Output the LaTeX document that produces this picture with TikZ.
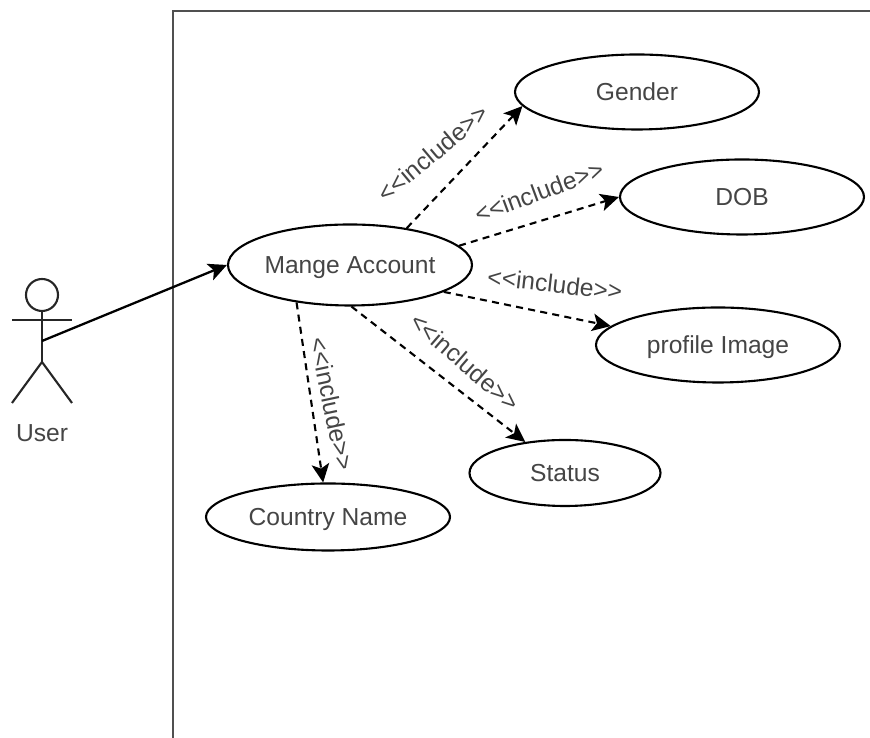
\documentclass[tikz,border=0pt]{standalone}
\usepackage{fontspec}
\setmainfont{Liberation Sans}
\usetikzlibrary{arrows.meta,shapes.geometric}
\definecolor{inkgray}{HTML}{454545}
\definecolor{framegray}{HTML}{505050}
\newcommand{\incl}{<{}<include>{}>}
\tikzset{
	usecase/.style={draw, ellipse, line width=1.2pt, inner sep=0pt, minimum width=4.88cm, minimum height=1.5cm, text=inkgray, text depth=0pt, font=\fontsize{14}{16}\selectfont},
	stereo/.style={text=inkgray, inner sep=0pt, font=\fontsize{14}{16}\selectfont},
	include/.style={->, dash pattern=on 4pt off 3pt, line width=1.2pt},
	stick/.style={line width=1.2pt, black!85},
}
\begin{document}
\begin{tikzpicture}[>={Stealth[length=10.5pt,width=10pt,inset=2.5pt]}]
	\useasboundingbox (0,0) rectangle (17.4,14.76);
	%Frame
	\draw [line width=1.5pt, framegray] (3.46,-0.1) -- (3.46,14.54) -- (17.5,14.54);
	%User
	\draw [stick] (0.84,8.86) circle (0.32cm);
	\draw [stick] (0.84,8.54) -- (0.84,7.52);
	\draw [stick] (0.24,8.36) -- (1.44,8.36);
	\draw [stick] (0.24,6.7) -- (0.84,7.52) -- (1.44,6.7);
	\coordinate (hip) at (0.84,7.94);
	\node [stereo] (user) at (0.84,6.1) {User};
	%Use cases
	\node [usecase, minimum height=1.62cm] (account) at (7,9.46) {Mange Account};
	\node [usecase] (gender) at (12.74,12.92) {Gender};
	\node [usecase] (dob) at (14.84,10.82) {DOB};
	\node [usecase] (image) at (14.36,7.86) {profile Image};
	\node [usecase, minimum width=3.82cm, minimum height=1.32cm] (status) at (11.3,5.3) {Status};
	\node [usecase, minimum height=1.34cm] (country) at (6.56,4.42) {Country Name};
	%Links
	\draw [->, line width=1.3pt] (hip) -- (account.west);
	\draw [include] (account.33) -- (gender.187);
	\draw [include] (account.10) -- (dob.west);
	\draw [include] (account.-16) -- (image.170);
	\draw [include] (account.-88) -- (status.142);
	\draw [include] (account.215) -- (country.98);
	%Labels
	\node [stereo, rotate=40] (incgender) at (8.66,11.7) {\incl};
	\node [stereo, rotate=20.5] (incdob) at (10.78,10.92) {\incl};
	\node [stereo, rotate=-6.5] (incimage) at (11.1,9.08) {\incl};
	\node [stereo, rotate=-41] (incstatus) at (9.3,7.52) {\incl};
	\node [stereo, rotate=-78] (inccountry) at (6.64,6.68) {\incl};
\end{tikzpicture}
\end{document}
